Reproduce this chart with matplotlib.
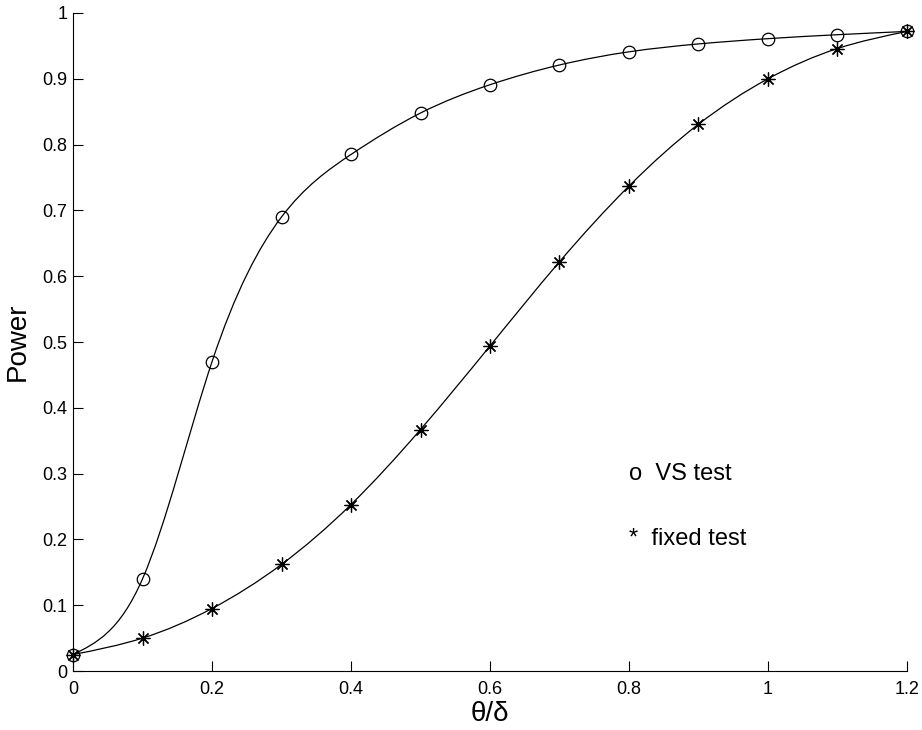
import numpy as np
import matplotlib
matplotlib.use('Agg')
import matplotlib.pyplot as plt
from matplotlib.path import Path
from matplotlib.patches import PathPatch

plt.rcParams['font.family'] = ['Liberation Sans', 'DejaVu Sans']

# data
theta = [0, 0.1, 0.2, 0.3, 0.4, 0.5, 0.6, 0.7, 0.8, 0.9, 1.0, 1.1, 1.2]
vs_power = [0.025, 0.14, 0.47, 0.69, 0.785, 0.848, 0.891, 0.921, 0.941, 0.953, 0.961, 0.967, 0.972]
fixed_power = [0.025, 0.05, 0.095, 0.162, 0.253, 0.367, 0.494, 0.622, 0.737, 0.831, 0.9, 0.946, 0.972]
xticks = [0, 0.2, 0.4, 0.6, 0.8, 1.0, 1.2]
xtick_labels = ['0', '0.2', '0.4', '0.6', '0.8', '1', '1.2']
yticks = [0, 0.1, 0.2, 0.3, 0.4, 0.5, 0.6, 0.7, 0.8, 0.9, 1.0]
ytick_labels = ['0', '0.1', '0.2', '0.3', '0.4', '0.5', '0.6', '0.7', '0.8', '0.9', '1']


def spline_path(x, y):
    # natural cubic spline through the points, drawn as bezier segments
    x = np.asarray(x, float)
    y = np.asarray(y, float)
    n = len(x)
    h = np.diff(x)
    d = np.diff(y) / h
    A = np.zeros((n, n))
    b = np.zeros(n)
    A[0, 0], A[0, 1], b[0] = 2, 1, 3 * d[0]
    A[-1, -2], A[-1, -1], b[-1] = 1, 2, 3 * d[-1]
    for i in range(1, n - 1):
        A[i, i - 1] = h[i]
        A[i, i] = 2 * (h[i - 1] + h[i])
        A[i, i + 1] = h[i - 1]
        b[i] = 3 * (h[i] * d[i - 1] + h[i - 1] * d[i])
    m = np.linalg.solve(A, b)
    verts = [(x[0], y[0])]
    codes = [Path.MOVETO]
    for i in range(n - 1):
        verts += [(x[i] + h[i] / 3, y[i] + m[i] * h[i] / 3),
                  (x[i + 1] - h[i] / 3, y[i + 1] - m[i + 1] * h[i] / 3),
                  (x[i + 1], y[i + 1])]
        codes += [Path.CURVE4] * 3
    return Path(verts, codes)


fig = plt.figure(figsize=(9.22, 7.3), dpi=100)
ax = fig.add_axes([0.0792, 0.0808, 0.9045, 0.9014])

for vals in (vs_power, fixed_power):
    ax.add_patch(PathPatch(spline_path(theta, vals), fill=False, ec='black', lw=0.9, clip_on=False))

ax.plot(theta, vs_power, 'o', ms=9, mfc='none', mec='black', mew=0.9, clip_on=False)
ax.plot(theta, fixed_power, ls='none', marker=(8, 2, 0), ms=10, mec='black', mew=0.9, clip_on=False)

ax.text(0.8, 0.3, 'o  VS test', fontsize=17, va='center')
ax.text(0.8, 0.2, '*  fixed test', fontsize=17, va='center')

ax.set_xlim(0, 1.2)
ax.set_ylim(0, 1)
ax.set_xticks(xticks)
ax.set_xticklabels(xtick_labels)
ax.set_yticks(yticks)
ax.set_yticklabels(ytick_labels)
ax.tick_params(direction='in', length=7, width=0.8, labelsize=13)
ax.tick_params(axis='x', pad=7)
ax.tick_params(axis='y', pad=4)
ax.spines['top'].set_visible(False)
ax.spines['right'].set_visible(False)
ax.set_xlabel('θ/δ', fontsize=20, labelpad=2)
ax.set_ylabel('Power', fontsize=20, labelpad=8)

fig.savefig('out.png', dpi=100)
